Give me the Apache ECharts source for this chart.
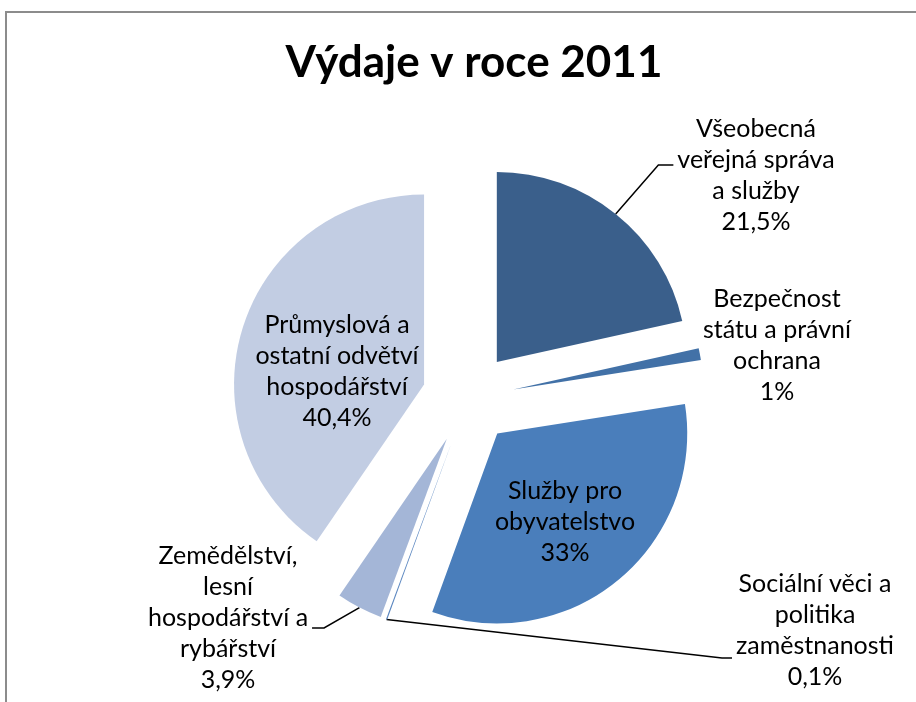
<!DOCTYPE html>
<html>
<head>
<meta charset="utf-8">
<script src="https://cdn.jsdelivr.net/npm/echarts@6/dist/echarts.min.js"></script>
<style>
  html, body { margin: 0; padding: 0; background: #fff; }
  #chart { width: 916px; height: 702px; }
</style>
</head>
<body>
<div id="chart"></div>
<script>
// data
var categories = [
  "Všeobecná\nveřejná správa\na služby",
  "Bezpečnost\nstátu a právní\nochrana",
  "Služby pro\nobyvatelstvo",
  "Sociální věci a\npolitika\nzaměstnanosti",
  "Zemědělství,\nlesní\nhospodářství a\nrybářství",
  "Průmyslová a\nostatní odvětví\nhospodářství"
];
var values = [21.5, 1, 33, 0.1, 3.9, 40.4];
var percentLabels = ["21,5%", "1%", "33%", "0,1%", "3,9%", "40,4%"];

var colors = ["#3A5F8B", "#4271A7", "#4A7EBB", "#5A86C0", "#A4B6D7", "#C2CDE3"];
var insideLabels = [false, false, true, false, false, true];

// layout: label centres, and where the leader line hooks into the label
var labelPos = [[756, 175], [777, 345], [565, 522], [815, 630], [228, 618], [337, 371]];
var hookY = { 0: -10, 3: 28, 4: 10 };
var hookLen = { 0: 15, 3: 10, 4: 12 };
var explode = 46;

// explode direction of every slice (clockwise from 12 o'clock)
var total = values.reduce(function (a, b) { return a + b; }, 0);
var offsets = [];
var acc = 0;
values.forEach(function (v) {
  var mid = (acc + v / 2) / total * Math.PI * 2;
  offsets.push([explode * Math.sin(mid), -explode * Math.cos(mid)]);
  acc += v;
});

var chart = echarts.init(document.getElementById("chart"));

var data = values.map(function (v, i) {
  return {
    name: categories[i],
    value: v,
    selected: true,
    itemStyle: { color: colors[i] },
    label: {
      position: insideLabels[i] ? "inside" : "outside",
      formatter: categories[i] + "\n" + percentLabels[i]
    },
    labelLine: { show: hookY[i] !== undefined }
  };
});

var option = {
  animation: false,
  title: {
    text: "Výdaje v roce 2011",
    left: 469,
    top: 36,
    textAlign: "center",
    textStyle: { fontFamily: "Lato", fontWeight: "bold", fontSize: 44, color: "#000" }
  },
  graphic: [{
    type: "rect",
    shape: { x: 6, y: 12, width: 1000, height: 1000 },
    style: { fill: null, stroke: "#8c8c8c", lineWidth: 2 },
    silent: true
  }],
  series: [{
    type: "pie",
    center: [468, 398],
    radius: 190,
    startAngle: 90,
    clockwise: true,
    selectedMode: "multiple",
    selectedOffset: explode,
    avoidLabelOverlap: false,
    data: data,
    label: {
      fontFamily: "Lato",
      fontSize: 25,
      lineHeight: 31,
      color: "#000"
    },
    labelLine: {
      length: 20,
      length2: 14,
      minTurnAngle: 0,
      lineStyle: { color: "#000", width: 1.5 }
    },
    labelLayout: function (params) {
      var i = params.dataIndex;
      var p = labelPos[i];
      var off = offsets[i];
      var r = params.labelRect;
      var anchorX = params.align === "left" ? r.x
        : params.align === "right" ? r.x + r.width : r.x + r.width / 2;
      // label rect is given before the slice is pulled out
      var tx = p[0] - off[0];
      var ty = p[1] - off[1];
      var res = { dx: tx - anchorX, dy: ty - (r.y + r.height / 2), align: "center" };
      if (hookY[i] !== undefined && params.labelLinePoints) {
        var start = params.labelLinePoints[0];
        var side = tx > start[0] ? 1 : -1;
        var endX = tx - side * (r.width / 2 + 4);
        var y = ty + hookY[i];
        res.labelLinePoints = [start, [endX - side * hookLen[i], y], [endX, y]];
      }
      return res;
    },
    emphasis: { disabled: true }
  }]
};

chart.setOption(option);
</script>
</body>
</html>
